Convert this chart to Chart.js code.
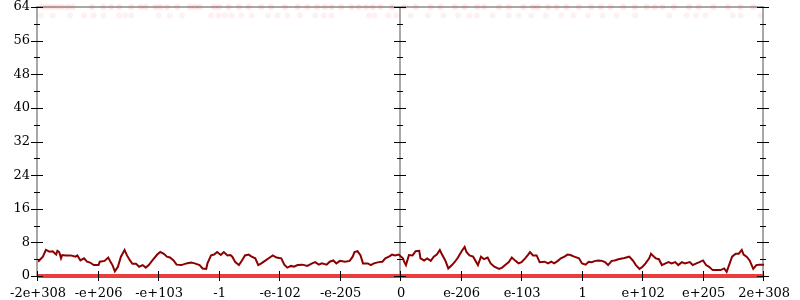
<!DOCTYPE html>
<html>
<head>
<meta charset="utf-8">
<script src="https://cdn.jsdelivr.net/npm/chart.js@4"></script>
<style>
    html, body { margin: 0; padding: 0; background: #fff; }
    #wrap { width: 800px; height: 300px; }
</style>
</head>
<body>
<div id="wrap"><canvas id="myChart" width="800" height="300"></canvas></div>
<script>
// подписи оси X (позиции -6..6)
const xLabels = ['-2e+308', '-e+206', '-e+103', '-1', '-e-102', '-e-205', '0',
    'e-206', 'e-103', '1', 'e+102', 'e+205', '2e+308'];
const yTicks = [0, 8, 16, 24, 32, 40, 48, 56, 64];

// основная кривая (тёмно-красная)
const lineX = [-6.00, -5.92, -5.87, -5.81, -5.76, -5.70, -5.68, -5.65, -5.62, -5.60, -5.54, -5.46, -5.38, -5.35, -5.30,
    -5.24, -5.19, -5.14, -5.08, -5.00, -4.98, -4.90, -4.84, -4.80, -4.77, -4.73, -4.68, -4.63, -4.57, -4.53,
    -4.48, -4.44, -4.38, -4.33, -4.27, -4.22, -4.17, -4.11, -4.03, -3.98, -3.92, -3.87, -3.82, -3.76, -3.71,
    -3.63, -3.55, -3.47, -3.41, -3.33, -3.28, -3.22, -3.20, -3.14, -3.09, -3.04, -2.98, -2.93, -2.87, -2.82,
    -2.79, -2.74, -2.68, -2.63, -2.58, -2.52, -2.47, -2.41, -2.36, -2.31, -2.25, -2.17, -2.12, -2.06, -1.98,
    -1.93, -1.88, -1.82, -1.77, -1.71, -1.63, -1.55, -1.47, -1.42, -1.36, -1.31, -1.23, -1.18, -1.12, -1.07,
    -1.01, -0.93, -0.85, -0.80, -0.77, -0.72, -0.67, -0.63, -0.55, -0.50, -0.45, -0.37, -0.31, -0.26, -0.20,
    -0.15, -0.10, -0.04, 0.03, 0.05, 0.08, 0.13, 0.19, 0.24, 0.30, 0.32, 0.38, 0.43, 0.49, 0.54,
    0.59, 0.64, 0.67, 0.73, 0.78, 0.84, 0.89, 0.94, 1.00, 1.05, 1.08, 1.13, 1.19, 1.27, 1.32,
    1.37, 1.43, 1.48, 1.54, 1.62, 1.67, 1.72, 1.78, 1.83, 1.89, 1.94, 1.99, 2.05, 2.10, 2.13,
    2.18, 2.24, 2.29, 2.37, 2.43, 2.48, 2.53, 2.59, 2.64, 2.70, 2.75, 2.80, 2.86, 2.94, 2.99,
    3.05, 3.10, 3.15, 3.21, 3.26, 3.32, 3.37, 3.42, 3.48, 3.53, 3.59, 3.67, 3.72, 3.77, 3.83,
    3.88, 3.94, 3.99, 4.04, 4.10, 4.13, 4.18, 4.21, 4.26, 4.31, 4.37, 4.42, 4.47, 4.53, 4.58,
    4.64, 4.69, 4.77, 4.82, 4.88, 4.93, 4.99, 5.04, 5.09, 5.15, 5.23, 5.28, 5.34, 5.38, 5.42,
    5.47, 5.53, 5.58, 5.63, 5.66, 5.71, 5.76, 5.82, 5.87, 5.92, 6.00];
const lineY = [3.4, 4.6, 6.2, 5.8, 5.9, 5.1, 6.0, 5.7, 4.2, 5.0, 4.9, 4.9, 4.6, 4.9, 3.7,
    4.2, 3.4, 3.2, 2.6, 2.6, 3.4, 3.6, 4.4, 3.3, 2.6, 1.1, 2.2, 4.6, 6.2, 4.9,
    3.7, 2.9, 2.9, 2.2, 2.6, 2.0, 2.6, 3.7, 5.1, 5.7, 5.3, 4.6, 4.4, 3.7, 2.7,
    2.6, 3.0, 3.2, 3.0, 2.6, 1.8, 1.7, 3.0, 4.9, 5.1, 5.7, 5.0, 5.7, 4.9, 5.0,
    4.6, 3.3, 2.6, 3.7, 4.9, 5.1, 4.6, 4.2, 2.6, 3.0, 3.6, 4.4, 4.9, 4.4, 4.2,
    2.7, 2.0, 2.4, 2.2, 2.6, 2.7, 2.4, 3.0, 3.3, 2.7, 3.0, 2.7, 3.4, 3.7, 3.0,
    3.6, 3.4, 3.6, 4.6, 5.7, 5.9, 4.9, 3.0, 3.0, 2.6, 3.0, 3.3, 3.4, 4.2, 4.6,
    5.1, 4.9, 5.1, 4.2, 3.4, 2.6, 5.0, 4.9, 5.9, 6.0, 4.2, 3.7, 4.2, 3.6, 4.6,
    5.1, 6.2, 5.3, 3.7, 1.8, 2.6, 3.4, 4.4, 5.9, 6.9, 5.7, 4.9, 4.6, 2.6, 4.6,
    4.0, 4.4, 3.0, 2.2, 1.7, 2.0, 2.6, 3.3, 4.4, 3.6, 3.0, 3.3, 4.2, 5.1, 5.7,
    4.9, 4.9, 3.3, 3.4, 3.0, 3.4, 3.0, 3.6, 4.2, 4.6, 5.1, 5.0, 4.6, 4.2, 3.0,
    2.7, 3.4, 3.3, 3.6, 3.7, 3.6, 3.3, 2.6, 3.6, 3.7, 4.0, 4.2, 4.4, 4.6, 3.7,
    2.6, 1.7, 2.2, 3.0, 4.2, 5.3, 4.6, 4.2, 4.0, 2.6, 3.0, 3.3, 3.0, 3.3, 2.6,
    3.3, 3.0, 3.3, 2.6, 3.0, 3.3, 3.7, 2.6, 2.2, 1.4, 1.4, 1.4, 1.8, 1.0, 2.6,
    4.6, 5.3, 5.3, 6.2, 5.1, 4.6, 3.7, 1.7, 2.6, 2.7, 2.7];

// нулевая линия (ярко-красная полоса внизу)
const zeroX = [-6, 6];
const zeroY = [0, 0];

// бледные точки у верхней границы
const topDotX = [-5.92, -5.84, -5.76, -5.68, -5.60, -5.51, -5.43, -5.11, -4.92, -4.79, -4.66, -4.46, -4.30, -4.22,
    -4.06, -3.98, -3.87, -3.70, -3.49, -3.41, -3.33, -3.09, -3.01, -2.85, -2.68, -2.52, -2.31, -2.15,
    -1.92, -1.71, -1.55, -1.39, -1.26, -1.15, -0.99, -0.82, -0.70, -0.58, -0.47, -0.34, -0.15, 0.05,
    0.24, 0.49, 0.65, 0.89, 1.05, 1.26, 1.37, 1.62, 1.78, 2.02, 2.18, 2.26, 2.43, 2.57, 2.73, 2.94,
    3.14, 3.30, 3.46, 3.67, 3.86, 4.06, 4.19, 4.32, 4.51, 4.76, 4.92, 5.16, 5.40, 5.61, 5.82];
const topDotY = 64;
const secondDotX = [-5.95, -5.76, -5.47, -5.24, -5.08, -4.92, -4.66, -4.56, -4.46, -4.01, -3.82, -3.62, -3.14,
    -3.02, -2.91, -2.80, -2.64, -2.47, -2.20, -2.04, -1.88, -1.67, -1.42, -1.28, -1.15, -0.53, -0.44,
    -0.21, -0.08, 0.16, 0.44, 0.70, 0.94, 1.13, 1.25, 1.51, 1.78, 1.94, 2.15, 2.39, 2.65, 2.85, 3.09,
    3.33, 3.56, 3.87, 4.43, 4.72, 4.87, 5.03, 5.48, 5.61, 5.94];
const secondDotY = 62;

const axisGray = '#a8a8a8';
const fontSpec = { family: 'DejaVu Serif', size: 13 };

const canvas = document.getElementById('myChart');

// оси: серые линии и засечки, как во flot
const axesPlugin = {
    id: 'flotAxes',
    beforeDatasetsDraw: chart => {
        const ctx = chart.ctx;
        const xs = chart.scales.x;
        const ys = chart.scales.y;
        const top = ys.getPixelForValue(64);
        const bottom = ys.getPixelForValue(0);
        ctx.save();
        ctx.strokeStyle = axisGray;
        ctx.lineWidth = 2;
        [-6, 0, 6].forEach(v => {
            const px = Math.round(xs.getPixelForValue(v)) - 1;
            ctx.beginPath();
            ctx.moveTo(px, top);
            ctx.lineTo(px, bottom);
            ctx.stroke();
        });
        ctx.beginPath();
        ctx.moveTo(xs.getPixelForValue(-6) - 2, Math.round(top));
        ctx.lineTo(xs.getPixelForValue(6), Math.round(top));
        ctx.stroke();
        ctx.restore();
    },
    afterDatasetsDraw: chart => {
        const ctx = chart.ctx;
        const xs = chart.scales.x;
        const ys = chart.scales.y;
        ctx.save();
        ctx.strokeStyle = '#000';
        ctx.lineWidth = 1;
        // засечки по Y на трёх вертикальных осях
        [-6, 0, 6].forEach(v => {
            const px = Math.round(xs.getPixelForValue(v)) - 1;
            for (let t = 0; t <= 64; t += 4) {
                const py = Math.round(ys.getPixelForValue(t)) + 0.5;
                const len = (t % 8 === 0) ? 6 : 3;
                ctx.beginPath();
                ctx.moveTo(px - len, py);
                ctx.lineTo(px + len, py);
                ctx.stroke();
            }
        });
        // засечки по X
        const base = ys.getPixelForValue(0);
        for (let v = -6; v <= 6; v++) {
            const px = Math.round(xs.getPixelForValue(v)) - 0.5;
            ctx.beginPath();
            ctx.moveTo(px, base - 5);
            ctx.lineTo(px, base + 5);
            ctx.stroke();
        }
        ctx.restore();
    }
};

const chart = new Chart(canvas, {
    type: 'line',
    data: {
        datasets: [
            {
                label: 'top',
                data: topDotX.map(x => ({ x: x, y: topDotY })),
                showLine: false,
                pointRadius: 3,
                pointBorderWidth: 0,
                pointBackgroundColor: 'rgba(255, 60, 60, 0.12)',
                clip: 4
            },
            {
                label: 'second',
                data: secondDotX.map(x => ({ x: x, y: secondDotY })),
                showLine: false,
                pointRadius: 3,
                pointBorderWidth: 0,
                pointBackgroundColor: 'rgba(255, 60, 60, 0.07)'
            },
            {
                label: 'zero',
                data: zeroX.map((x, i) => ({ x: x, y: zeroY[i] })),
                borderColor: 'rgba(232, 40, 40, 0.9)',
                borderWidth: 4,
                pointRadius: 0,
                clip: 4
            },
            {
                label: 'main',
                data: lineX.map((x, i) => ({ x: x, y: lineY[i] })),
                borderColor: '#8b0000',
                borderWidth: 2,
                pointRadius: 0,
                tension: 0,
                borderJoinStyle: 'miter'
            }
        ]
    },
    options: {
        responsive: false,
        animation: false,
        devicePixelRatio: 1,
        layout: { padding: { top: 0, right: 28, left: 0, bottom: 0 } },
        plugins: {
            legend: { display: false },
            tooltip: { enabled: false }
        },
        scales: {
            x: {
                type: 'linear',
                min: -6,
                max: 6,
                grid: { display: false, drawTicks: false },
                border: { display: false },
                ticks: {
                    stepSize: 1,
                    autoSkip: false,
                    maxRotation: 0,
                    padding: 10,
                    color: '#000',
                    font: fontSpec,
                    callback: v => xLabels[v + 6]
                },
                afterFit: scale => { scale.height = 24; }
            },
            y: {
                min: 0,
                max: 64,
                afterBuildTicks: scale => {
                    scale.ticks = yTicks.map(v => ({ value: v }));
                },
                grid: { display: false, drawTicks: false },
                border: { display: false },
                ticks: {
                    padding: 8,
                    color: '#000',
                    font: fontSpec
                },
                afterFit: scale => {
                    scale.width = 30;
                    scale.paddingTop = 7;
                    scale.paddingBottom = 7;
                }
            }
        }
    },
    plugins: [axesPlugin]
});
</script>
</body>
</html>
